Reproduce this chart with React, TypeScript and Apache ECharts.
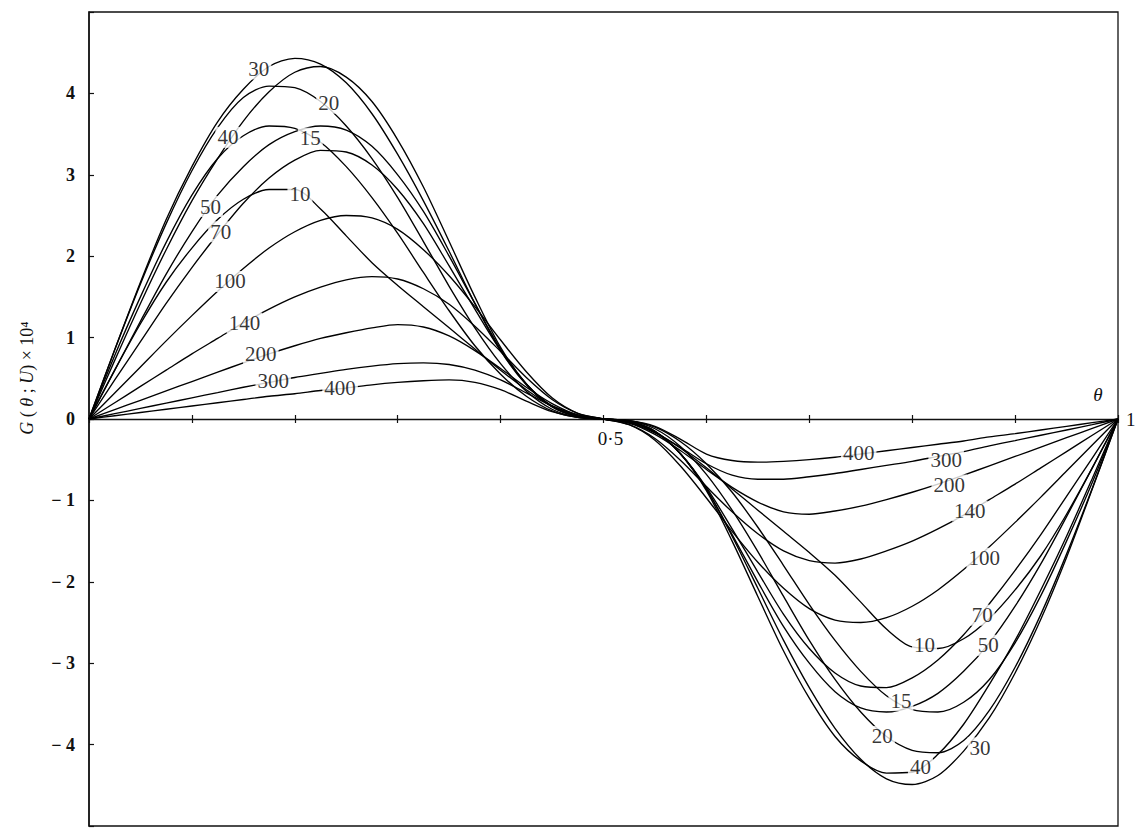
import { useEffect, useRef } from 'react';
import * as echarts from 'echarts';

const THETA = [0, 0.025, 0.05, 0.075, 0.1, 0.125, 0.15, 0.175, 0.2, 0.225, 0.25, 0.275, 0.3, 0.325, 0.35, 0.375, 0.4, 0.425, 0.45, 0.475, 0.5,
  0.525, 0.55, 0.575, 0.6, 0.625, 0.65, 0.675, 0.7, 0.725, 0.75, 0.775, 0.8, 0.825, 0.85, 0.875, 0.9, 0.925, 0.95, 0.975, 1];

const U_VALUES = ['10', '15', '20', '30', '40', '50', '70', '100', '140', '200', '300', '400'];

const G_U10 = [0, 0.6, 1.17, 1.68, 2.1, 2.45, 2.7, 2.82, 2.82, 2.58, 2.25, 1.92, 1.64, 1.38, 1.12, 0.86, 0.6, 0.36, 0.16, 0.04, 0,
  -0.04, -0.16, -0.36, -0.6, -0.86, -1.12, -1.38, -1.64, -1.92, -2.25, -2.58, -2.8, -2.82, -2.7, -2.45, -2.1, -1.68, -1.17, -0.6, 0];
const G_U15 = [0, 0.78, 1.5, 2.17, 2.75, 3.2, 3.48, 3.6, 3.57, 3.4, 3.1, 2.72, 2.28, 1.8, 1.33, 0.9, 0.55, 0.28, 0.1, 0.02, 0,
  -0.02, -0.1, -0.28, -0.55, -0.9, -1.33, -1.8, -2.28, -2.72, -3.1, -3.4, -3.57, -3.6, -3.48, -3.2, -2.75, -2.17, -1.5, -0.78, 0];
const G_U20 = [0, 0.85, 1.66, 2.4, 3.05, 3.58, 3.95, 4.09, 4.07, 3.9, 3.6, 3.2, 2.72, 2.18, 1.63, 1.12, 0.68, 0.34, 0.12, 0.02, 0,
  -0.02, -0.12, -0.34, -0.68, -1.12, -1.63, -2.18, -2.72, -3.2, -3.6, -3.9, -4.07, -4.1, -3.95, -3.58, -3.05, -2.4, -1.66, -0.85, 0];
const G_U30 = [0, 0.85, 1.68, 2.45, 3.1, 3.65, 4.05, 4.33, 4.43, 4.36, 4.13, 3.75, 3.25, 2.68, 2.06, 1.42, 0.84, 0.42, 0.15, 0.03, 0,
  -0.03, -0.15, -0.43, -0.86, -1.44, -2.08, -2.72, -3.3, -3.8, -4.18, -4.42, -4.49, -4.38, -4.08, -3.67, -3.12, -2.46, -1.7, -0.86, 0];
const G_U40 = [0, 0.72, 1.42, 2.08, 2.68, 3.2, 3.66, 4.02, 4.26, 4.33, 4.2, 3.9, 3.43, 2.85, 2.18, 1.5, 0.88, 0.43, 0.15, 0.03, 0,
  -0.03, -0.15, -0.43, -0.88, -1.5, -2.18, -2.85, -3.43, -3.9, -4.2, -4.35, -4.34, -4.12, -3.75, -3.26, -2.72, -2.1, -1.44, -0.73, 0];
const G_U50 = [0, 0.6, 1.2, 1.78, 2.3, 2.75, 3.1, 3.37, 3.53, 3.6, 3.55, 3.35, 3.0, 2.55, 2.0, 1.42, 0.86, 0.43, 0.15, 0.03, 0,
  -0.03, -0.15, -0.43, -0.86, -1.42, -2.0, -2.55, -3.0, -3.35, -3.55, -3.6, -3.53, -3.37, -3.1, -2.75, -2.3, -1.78, -1.2, -0.6, 0];
const G_U70 = [0, 0.48, 0.95, 1.42, 1.86, 2.27, 2.65, 2.96, 3.18, 3.3, 3.28, 3.12, 2.82, 2.4, 1.88, 1.35, 0.84, 0.43, 0.16, 0.03, 0,
  -0.03, -0.16, -0.43, -0.84, -1.35, -1.88, -2.4, -2.82, -3.12, -3.28, -3.3, -3.18, -2.96, -2.65, -2.27, -1.86, -1.42, -0.95, -0.48, 0];
const G_U100 = [0, 0.32, 0.64, 0.96, 1.27, 1.57, 1.85, 2.1, 2.3, 2.44, 2.5, 2.47, 2.33, 2.08, 1.76, 1.38, 0.97, 0.58, 0.26, 0.07, 0,
  -0.07, -0.26, -0.58, -0.97, -1.38, -1.76, -2.08, -2.33, -2.47, -2.5, -2.44, -2.3, -2.1, -1.85, -1.57, -1.27, -0.96, -0.64, -0.32, 0];
const G_U140 = [0, 0.2, 0.4, 0.6, 0.8, 0.99, 1.18, 1.35, 1.5, 1.62, 1.71, 1.75, 1.72, 1.6, 1.41, 1.14, 0.83, 0.51, 0.24, 0.07, 0,
  -0.07, -0.24, -0.51, -0.83, -1.14, -1.41, -1.62, -1.74, -1.77, -1.72, -1.62, -1.5, -1.35, -1.18, -0.99, -0.8, -0.6, -0.4, -0.2, 0];
const G_U200 = [0, 0.115, 0.23, 0.345, 0.46, 0.575, 0.69, 0.8, 0.9, 0.99, 1.06, 1.12, 1.16, 1.13, 1.02, 0.84, 0.62, 0.39, 0.19, 0.05, 0,
  -0.05, -0.19, -0.39, -0.62, -0.84, -1.02, -1.14, -1.17, -1.13, -1.07, -0.99, -0.9, -0.8, -0.69, -0.575, -0.46, -0.345, -0.23, -0.115, 0];
const G_U300 = [0, 0.065, 0.13, 0.195, 0.26, 0.325, 0.39, 0.45, 0.51, 0.56, 0.61, 0.65, 0.68, 0.69, 0.67, 0.6, 0.48, 0.32, 0.16, 0.05, 0,
  -0.05, -0.17, -0.35, -0.55, -0.69, -0.74, -0.74, -0.71, -0.67, -0.62, -0.57, -0.52, -0.46, -0.4, -0.33, -0.265, -0.2, -0.135, -0.07, 0];
const G_U400 = [0, 0.04, 0.08, 0.12, 0.16, 0.2, 0.24, 0.28, 0.31, 0.35, 0.38, 0.42, 0.45, 0.47, 0.48, 0.45, 0.36, 0.22, 0.09, 0.02, 0,
  -0.02, -0.09, -0.25, -0.43, -0.51, -0.53, -0.52, -0.5, -0.47, -0.43, -0.39, -0.35, -0.31, -0.27, -0.22, -0.18, -0.135, -0.09, -0.045, 0];

const G_SERIES = [G_U10, G_U15, G_U20, G_U30, G_U40, G_U50, G_U70, G_U100, G_U140, G_U200, G_U300, G_U400];

// inline curve labels: text and anchor (theta, G)
const LABEL_TEXT = ['30', '20', '40', '15', '10', '50', '70', '100', '140', '200', '300', '400',
  '400', '300', '200', '140', '100', '70', '10', '50', '15', '20', '30', '40'];
const LABEL_THETA = [0.165, 0.233, 0.135, 0.215, 0.205, 0.118, 0.128, 0.137, 0.151, 0.167, 0.179, 0.244,
  0.748, 0.833, 0.836, 0.856, 0.87, 0.868, 0.812, 0.874, 0.789, 0.771, 0.866, 0.808];
const LABEL_G = [4.3, 3.88, 3.46, 3.45, 2.76, 2.61, 2.3, 1.69, 1.18, 0.8, 0.47, 0.38,
  -0.42, -0.5, -0.81, -1.13, -1.71, -2.41, -2.78, -2.78, -3.46, -3.9, -4.04, -4.27];

const Y_TICKS_SHOWN = [-4, -3, -2, -1, 0, 1, 2, 3, 4];

const SERIF = '"Liberation Serif", "Times New Roman", serif';

export default function App() {
  const ref = useRef<HTMLDivElement>(null);

  useEffect(() => {
    if (!ref.current) return;
    const chart = echarts.init(ref.current, null, { renderer: 'svg' });

    const lineSeries = U_VALUES.map((u, i) => ({
      type: 'line',
      name: 'U = ' + u,
      xAxisIndex: 0,
      yAxisIndex: 0,
      data: THETA.map((t, j) => [t, G_SERIES[i][j]]),
      showSymbol: false,
      symbol: 'none',
      smooth: 0.3,
      silent: true,
      z: 2,
      lineStyle: { color: '#000', width: 1.35 },
    }));

    const labelSeries = {
      type: 'scatter',
      name: 'labels',
      xAxisIndex: 0,
      yAxisIndex: 0,
      silent: true,
      z: 5,
      symbolSize: 1,
      itemStyle: { color: 'rgba(0,0,0,0)' },
      data: LABEL_TEXT.map((s, k) => ({ name: s, value: [LABEL_THETA[k], LABEL_G[k]] })),
      label: {
        show: true,
        position: 'inside',
        formatter: '{b}',
        fontFamily: SERIF,
        fontSize: 21,
        color: '#000',
        textBorderWidth: 0,
        backgroundColor: '#fff',
        padding: [0, 2],
      },
    };

    chart.setOption({
      animation: false,
      backgroundColor: '#fff',
      grid: [
        {
          // full plotting area, -5..5
          left: 89,
          right: 18,
          top: 12,
          bottom: 2,
          show: true,
          borderColor: '#111',
          borderWidth: 1.3,
          backgroundColor: 'transparent',
          outerBoundsMode: 'none',
          containLabel: false,
        },
        {
          // upper half 0..5 only: its bottom edge is the G = 0 line
          left: 89,
          right: 18,
          top: 12,
          bottom: 409,
          show: false,
          outerBoundsMode: 'none',
          containLabel: false,
        },
      ],
      xAxis: [
        {
          type: 'value',
          gridIndex: 0,
          min: 0,
          max: 1,
          interval: 0.1,
          show: false,
        },
        {
          type: 'value',
          gridIndex: 1,
          min: 0,
          max: 1,
          interval: 0.1,
          position: 'bottom',
          axisLine: { show: true, onZero: false, lineStyle: { color: '#111', width: 1.3 } },
          axisTick: { show: true, inside: false, length: 4, lineStyle: { color: '#111', width: 1.2 } },
          axisLabel: {
            formatter: (v: number) => (Math.abs(v - 0.5) < 1e-9 ? '0·5' : ''),
            margin: 10,
            fontFamily: SERIF,
            fontSize: 19,
            color: '#111',
            padding: [0, 0, 0, 14],
          },
          splitLine: { show: false },
          name: '1',
          nameLocation: 'end',
          nameGap: 8,
          nameTextStyle: { fontFamily: SERIF, fontSize: 19, color: '#111', padding: [12, 0, 0, 0] },
        },
        {
          type: 'value',
          gridIndex: 1,
          min: 0,
          max: 1,
          interval: 0.1,
          position: 'bottom',
          axisLine: { show: false, onZero: false },
          axisTick: { show: true, inside: true, length: 4, lineStyle: { color: '#111', width: 1.2 } },
          axisLabel: { show: false },
          splitLine: { show: false },
        },
      ],
      yAxis: [
        {
          type: 'value',
          gridIndex: 0,
          min: -5,
          max: 5,
          interval: 1,
          axisLine: { show: true, onZero: false, lineStyle: { color: '#111', width: 1.5 } },
          axisTick: { show: true, inside: true, length: 5, lineStyle: { color: '#111', width: 1.2 } },
          axisLabel: {
            formatter: (v: number) => {
              if (Y_TICKS_SHOWN.indexOf(v) < 0) return '';
              return v < 0 ? '\u2212 ' + String(-v) : String(v);
            },
            margin: 14,
            fontFamily: SERIF,
            fontSize: 18,
            fontWeight: 'bold',
            color: '#111',
          },
          splitLine: { show: false },
        },
        {
          type: 'value',
          gridIndex: 1,
          min: 0,
          max: 5,
          show: false,
        },
      ],
      graphic: [
        {
          type: 'text',
          x: 1098,
          y: 394,
          style: {
            text: 'θ',
            fontFamily: SERIF,
            fontStyle: 'italic',
            fontSize: 19,
            fill: '#111',
            align: 'center',
            verticalAlign: 'middle',
          },
        },
        {
          type: 'text',
          x: 27,
          y: 378,
          rotation: Math.PI / 2,
          style: {
            text: '{i|G} ( {i|θ} ; {i|U}) × 10⁴',
            fontFamily: SERIF,
            fontSize: 18,
            fill: '#111',
            align: 'center',
            verticalAlign: 'middle',
            rich: {
              i: { fontFamily: SERIF, fontStyle: 'italic', fontSize: 18, fill: '#111' },
            },
          },
        },
      ],
      series: [...lineSeries, labelSeries],
    });

    return () => {
      chart.dispose();
    };
  }, []);

  return (
    <div
      ref={ref}
      style={{ position: 'absolute', left: 0, top: 0, width: 1136, height: 828, background: '#fff' }}
    />
  );
}
